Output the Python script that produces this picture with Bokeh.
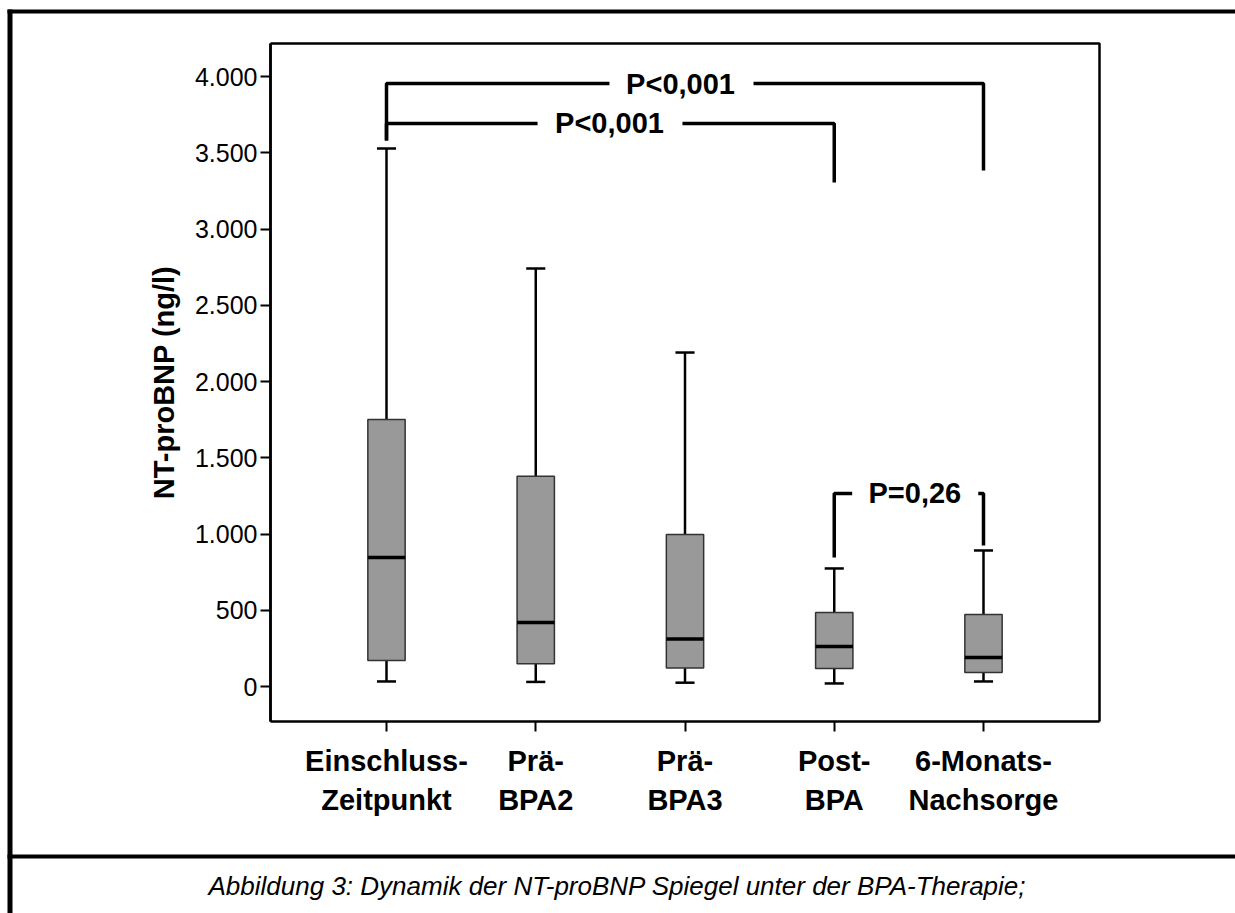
from bokeh.plotting import figure
from bokeh.models import FixedTicker, BoxAnnotation, Label, Range1d
from bokeh.core.properties import value
from bokeh.embed import file_html
from bokeh.resources import INLINE

# ---- data ----
categories = ["Einschluss-\nZeitpunkt", "Prä-\nBPA2", "Prä-\nBPA3", "Post-\nBPA", "6-Monats-\nNachsorge"]
positions = [0, 1, 2, 3, 4]
lower_whisker = [33, 30, 25, 20, 33]
q1 = [170, 150, 122, 118, 92]
median = [846, 420, 312, 262, 190]
q3 = [1751, 1378, 997, 485, 472]
upper_whisker = [3528, 2741, 2190, 774, 892]

y_ticks = [0, 500, 1000, 1500, 2000, 2500, 3000, 3500, 4000]
y_tick_labels = ["0", "500", "1.000", "1.500", "2.000", "2.500", "3.000", "3.500", "4.000"]

# significance brackets
p_labels = ["P<0,001", "P<0,001", "P=0,26"]
bracket_top = [3954, 3692, 1266]
bracket_from = [0, 0, 3]
bracket_to = [4, 3, 4]
bracket_left_end = [3580, 3580, 846]
bracket_right_end = [3384, 3305, 925]
label_x = [1.97, 1.494, 3.54]
gap_left = [1.494, 1.012, 3.12]
gap_right = [2.459, 1.983, 3.965]

caption = "Abbildung 3: Dynamik der NT-proBNP Spiegel unter der BPA-Therapie;"

FONT = "Liberation Sans"

# ---- layout (canvas pixels) ----
W, H = 1235, 913
CX0, DX = 386.0, 149.25      # canvas x of first category, px per category
CY0, DY = 686.0, 0.1525      # canvas y of value 0, px per unit
FL, FR, FT, FB = 270, 1099, 43, 721   # inner plot box


def dx(cx):
    return (cx - CX0) / DX


def dy(cy):
    return (CY0 - cy) / DY


p = figure(width=W, height=H, output_backend="svg", toolbar_location=None,
           x_range=Range1d(dx(0), dx(W)), y_range=Range1d(dy(H), dy(0)),
           min_border=0, min_border_left=0, min_border_right=0,
           min_border_top=0, min_border_bottom=0,
           background_fill_color="white", border_fill_color="white")
p.grid.visible = False
p.outline_line_color = None

# axes, pinned to the inner plot box
p.yaxis.fixed_location = dx(FL)
p.yaxis.bounds = (dy(FB), dy(FT))
p.yaxis.ticker = FixedTicker(ticks=y_ticks)
p.yaxis.major_label_overrides = {t: l for t, l in zip(y_ticks, y_tick_labels)}
p.yaxis.minor_tick_line_color = None
p.yaxis.major_tick_in = 0
p.yaxis.major_tick_out = 10
p.yaxis.major_tick_line_width = 2
p.yaxis.axis_line_width = 2.5
p.yaxis.major_label_text_font = FONT
p.yaxis.major_label_text_font_size = "25px"
p.yaxis.major_label_text_color = "black"
p.yaxis.major_label_standoff = 3
p.yaxis.axis_label = "NT-proBNP (ng/l)"
p.yaxis.axis_label_text_font = FONT
p.yaxis.axis_label_text_font_size = "29px"
p.yaxis.axis_label_text_font_style = "bold"
p.yaxis.axis_label_text_color = "black"
p.yaxis.axis_label_standoff = 12

p.xaxis.fixed_location = dy(FB)
p.xaxis.bounds = (dx(FL), dx(FR))
p.xaxis.ticker = FixedTicker(ticks=positions)
p.xaxis.major_label_overrides = {t: l for t, l in zip(positions, categories)}
p.xaxis.minor_tick_line_color = None
p.xaxis.major_tick_in = 0
p.xaxis.major_tick_out = 10
p.xaxis.major_tick_line_width = 2
p.xaxis.axis_line_width = 2.5
p.xaxis.major_label_text_font = FONT
p.xaxis.major_label_text_font_size = "29px"
p.xaxis.major_label_text_font_style = "bold"
p.xaxis.major_label_text_color = "black"
p.xaxis.major_label_text_line_height = 1.22
p.xaxis.major_label_standoff = 13

# inner plot box (top and right edges)
p.line([dx(FL), dx(FR), dx(FR)], [dy(FT), dy(FT), dy(FB)], line_color="black", line_width=2.5)
p.line([dx(FL), dx(FL)], [dy(FB), dy(FT)], line_color="black", line_width=2.5)

# boxes
box_w = 0.25
cap_w = 0.128
p.segment(positions, q3, positions, upper_whisker, line_color="black", line_width=2.5)
p.segment(positions, lower_whisker, positions, q1, line_color="black", line_width=2.5)
p.segment([x - cap_w / 2 for x in positions], upper_whisker,
          [x + cap_w / 2 for x in positions], upper_whisker, line_color="black", line_width=2.5)
p.segment([x - cap_w / 2 for x in positions], lower_whisker,
          [x + cap_w / 2 for x in positions], lower_whisker, line_color="black", line_width=2.5)
p.vbar(x=positions, width=box_w, bottom=q1, top=q3, fill_color="#999999",
       line_color="#333333", line_width=1.5)
p.segment([x - box_w / 2 for x in positions], median,
          [x + box_w / 2 for x in positions], median, line_color="black", line_width=3.5)

# brackets
xs, ys = [], []
for i in range(len(p_labels)):
    xs.append([bracket_from[i], bracket_from[i], gap_left[i]])
    ys.append([bracket_left_end[i], bracket_top[i], bracket_top[i]])
    xs.append([gap_right[i], bracket_to[i], bracket_to[i]])
    ys.append([bracket_top[i], bracket_top[i], bracket_right_end[i]])
p.multi_line(xs, ys, line_color="black", line_width=3.5)
p.text(x=label_x, y=bracket_top, text=p_labels, text_font=value(FONT),
       text_font_size="29px", text_font_style="bold", text_align="center",
       text_baseline="middle", text_color="black")

# outer frame and caption separator
frame_kw = dict(fill_color="black", fill_alpha=1.0, line_color=None)
p.add_layout(BoxAnnotation(left=dx(7), right=dx(W), top=dy(9), bottom=dy(13), **frame_kw))
p.add_layout(BoxAnnotation(left=dx(7), right=dx(12), top=dy(9), bottom=dy(H), **frame_kw))
p.add_layout(BoxAnnotation(left=dx(7), right=dx(W), top=dy(854), bottom=dy(858), **frame_kw))

p.add_layout(Label(x=dx(617), y=dy(885), text=caption, text_font=FONT,
                   text_font_size="26px", text_font_style="italic",
                   text_align="center", text_baseline="middle",
                   text_color="black"))

open("out.html", "w").write(file_html(p, INLINE))
